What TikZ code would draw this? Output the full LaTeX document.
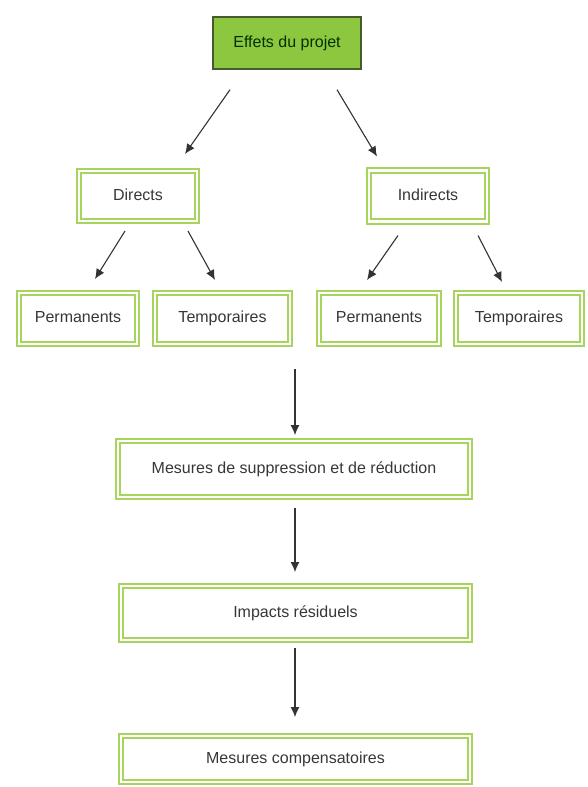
\documentclass[tikz,border=0pt]{standalone}
\usepackage{fontspec}
\setmainfont{Liberation Sans}
\usepackage{xcolor}
\usetikzlibrary{arrows.meta,calc}
\definecolor{boxgreen}{RGB}{166,212,92}
\definecolor{projgreen}{RGB}{141,198,63}
\definecolor{projedge}{RGB}{70,90,45}
\definecolor{txtgrey}{RGB}{55,55,55}
\tikzset{
	dbox/.style={draw=boxgreen,double=white,line width=2pt,double distance=2.4pt,
		text=txtgrey,font=\fontsize{16}{19}\selectfont,inner sep=2pt,
		text height=12pt,text depth=3.5pt},
	projbox/.style={draw=projedge,fill=projgreen,line width=1.4pt,
		text=black!80!green,font=\fontsize{16}{19}\selectfont,
		text height=12pt,text depth=3.5pt},
	arr/.style={-{Latex[length=10pt,width=9pt]},draw=black!80,line width=1.1pt}
}
\begin{document}
\begin{tikzpicture}[x=1pt,y=-1pt]
\useasboundingbox[fill=white] (0,0) rectangle (587,787);

% niveau 1
\node[projbox,minimum width=148,minimum height=52] (eff) at (287,43) {Effets du projet};
% niveau 2
\node[dbox,minimum width=118,minimum height=50] (dir) at (138,196) {Directs};
\node[dbox,minimum width=118,minimum height=51] (ind) at (428,196) {Indirects};
% niveau 3
\node[dbox,minimum width=118,minimum height=51] (perm1) at (78,318.5) {Permanents};
\node[dbox,minimum width=135,minimum height=51] (temp1) at (222.5,318.5) {Temporaires};
\node[dbox,minimum width=120,minimum height=51] (perm2) at (379,318.5) {Permanents};
\node[dbox,minimum width=126,minimum height=51] (temp2) at (519,318.5) {Temporaires};
% mesures
\node[dbox,minimum width=352,minimum height=56] (mes) at (294,469) {Mesures de suppression et de r\'eduction};
\node[dbox,minimum width=349,minimum height=54] (imp) at (295.5,613) {Impacts r\'esiduels};
\node[dbox,minimum width=349,minimum height=46] (comp) at (295.5,759) {Mesures compensatoires};

%\draw[arr] (eff) -- (dir);
\draw[arr] ($(eff.south)+(-57,20)$) -- ($(dir.north)+(47,-16)$);
\draw[arr] ($(eff.south)+(50,20)$) -- ($(ind.north)+(-51,-13)$);
\draw[arr] ($(dir.south)+(-13,9)$) -- ($(perm1.north)+(17,-13)$);
\draw[arr] ($(dir.south)+(50,9)$) -- ($(temp1.north)+(-7.5,-12)$);
\draw[arr] ($(ind.south)+(-30,13)$) -- ($(perm2.north)+(-12,-12)$);
\draw[arr] ($(ind.south)+(50,13)$) -- ($(temp2.north)+(-17,-10)$);
\draw[arr] ($(mes.north)+(1,-71)$) -- ($(mes.north)+(1,-5)$);
\draw[arr] ($(mes.south)+(1,10)$) -- ($(imp.north)+(-0.5,-13)$);
\draw[arr] ($(imp.south)+(-0.5,7)$) -- ($(comp.north)+(-0.5,-18)$);

\end{tikzpicture}
\end{document}
